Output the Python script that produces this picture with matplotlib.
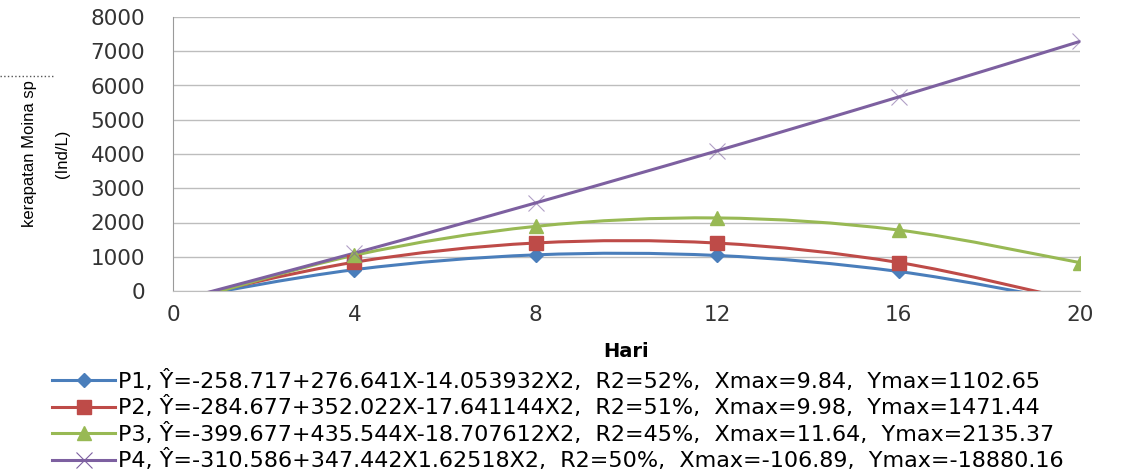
import matplotlib
matplotlib.use('Agg')
import matplotlib.pyplot as plt
import numpy as np
from matplotlib.path import Path
from matplotlib.patches import PathPatch
from matplotlib.lines import Line2D

# data (fitted values per day)
hari = [0, 4, 8, 12, 16, 20]
p1 = [-259, 623, 1055, 1037, 570, -347]
p2 = [-285, 841, 1402, 1399, 832, -301]
p3 = [-400, 1043, 1887, 2133, 1780, 828]
p4 = [-311, 1105, 2573, 4093, 5665, 7288]

labels = [
    "P1, Ŷ=-258.717+276.641X-14.053932X2,  R2=52%,  Xmax=9.84,  Ymax=1102.65",
    "P2, Ŷ=-284.677+352.022X-17.641144X2,  R2=51%,  Xmax=9.98,  Ymax=1471.44",
    "P3, Ŷ=-399.677+435.544X-18.707612X2,  R2=45%,  Xmax=11.64,  Ymax=2135.37",
    "P4, Ŷ=-310.586+347.442X1.62518X2,  R2=50%,  Xmax=-106.89,  Ymax=-18880.16",
]
colors = ['#4a7ebb', '#be4b48', '#98b954', '#7d60a0']
markers = ['D', 's', '^', 'x']
msizes = [7, 10, 10, 11]


def smooth_path(xs, ys):
    # excel-style smoothed line: catmull-rom segments as cubic bezier
    pts = np.column_stack([xs, ys]).astype(float)
    verts = [pts[0]]
    codes = [Path.MOVETO]
    n = len(pts)
    for i in range(n - 1):
        p0 = pts[i - 1] if i > 0 else pts[i]
        p1_ = pts[i]
        p2_ = pts[i + 1]
        p3_ = pts[i + 2] if i + 2 < n else pts[i + 1]
        c1 = p1_ + (p2_ - p0) / 6.0
        c2 = p2_ - (p3_ - p1_) / 6.0
        verts += [c1, c2, p2_]
        codes += [Path.CURVE4] * 3
    return Path(verts, codes)


fig = plt.figure(figsize=(11.29, 4.75), dpi=100)
ax = fig.add_axes([173 / 1129, 1 - 291 / 475, 907 / 1129, 274 / 475])

handles = []
for ys, c, m, ms, lab in zip([p1, p2, p3, p4], colors, markers, msizes, labels):
    ax.add_patch(PathPatch(smooth_path(hari, ys), fill=False, edgecolor=c,
                           linewidth=2.2, zorder=3))
    if m == 'x':
        ax.plot(hari, ys, linestyle='none', marker=m, markersize=ms, color=c,
                markeredgewidth=0.8, alpha=0.6, zorder=4)
    else:
        ax.plot(hari, ys, linestyle='none', marker=m, markersize=ms, color=c, zorder=4)
    handles.append(Line2D([], [], color=c, linewidth=2.2, marker=m, markersize=ms,
                          markeredgewidth=0.8 if m == 'x' else 1.0, label=lab))

ax.set_xlim(0, 20)
ax.set_ylim(0, 8000)
ax.set_xticks([0, 4, 8, 12, 16, 20])
ax.set_yticks(range(0, 8001, 1000))
ax.grid(True, axis='y', color='#bdbdbd', linewidth=1.0)
ax.set_axisbelow(True)
for s in ['top', 'right']:
    ax.spines[s].set_visible(False)
ax.spines['left'].set_color('#9a9a9a')
ax.spines['bottom'].set_color('#bdbdbd')
ax.tick_params(axis='y', length=0, pad=20, labelsize=15.5, labelcolor='#333333')
ax.tick_params(axis='x', length=0, pad=10, labelsize=15.5, labelcolor='#333333')

ax.set_xlabel('Hari', fontsize=14, fontweight='bold')
ax.xaxis.set_label_coords(0.5, -0.185)
ax.set_ylabel('kerapatan Moina sp\n(Ind/L)', fontsize=12,
              family='Liberation Sans', linespacing=2.5)
ax.yaxis.set_label_coords(-0.1136, 0.5)

fig.legend(handles=handles, loc='upper left', bbox_to_anchor=(52 / 1129, 1 - 370 / 475),
           frameon=False, fontsize=16, handlelength=2.85, handletextpad=0.1,
           labelspacing=0.2, borderpad=0, borderaxespad=0)

# stray dotted mark at upper left
fig.add_artist(Line2D([0, 53 / 1129], [1 - 76 / 475] * 2, linestyle=':', color='#555555',
                      linewidth=1.0))

plt.savefig('out.png', dpi=100)
plt.close()
